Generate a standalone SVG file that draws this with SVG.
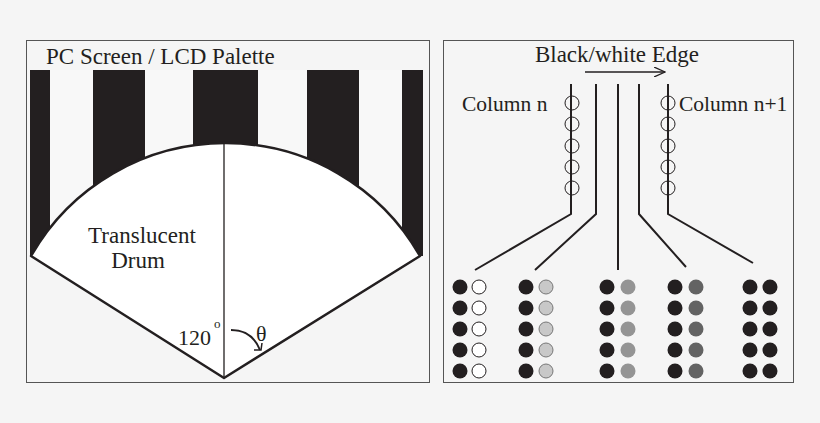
<svg xmlns="http://www.w3.org/2000/svg" width="820" height="423" viewBox="0 0 820 423">
<style>
text{font-family:"Liberation Serif",serif;fill:#231f20}
.ln{stroke:#231f20;stroke-width:2;fill:none}
.oc{fill:none;stroke:#231f20;stroke-width:1}
.blk{fill:#231f20}
</style>
<defs>
<marker id="ah" markerWidth="12" markerHeight="10" refX="11" refY="5" orient="auto" markerUnits="userSpaceOnUse"><path d="M0,0 L11,5 L0,10" fill="none" stroke="#231f20" stroke-width="1.3"/></marker>
</defs>
<rect width="820" height="423" fill="#f5f5f5"/>
<g id="left-panel">
<rect x="26.5" y="40.5" width="403" height="342" fill="#f5f5f5" stroke="#555" stroke-width="1"/>
<text x="46" y="64" font-size="23">PC Screen / LCD Palette</text>
<rect x="30" y="70" width="393" height="186" fill="#f8f8f8"/>
<rect class="blk" x="30" y="70" width="20" height="186"/>
<rect class="blk" x="93" y="70" width="52" height="186"/>
<rect class="blk" x="193" y="70" width="65" height="186"/>
<rect class="blk" x="307" y="70" width="52" height="186"/>
<rect class="blk" x="402" y="70" width="21" height="186"/>
</g>
<g id="drum">
<path d="M224,378 L31,256 A224,224 0 0 1 420,256 Z" fill="#fff" stroke="#231f20" stroke-width="2.5" stroke-linejoin="round"/>
<line x1="224" y1="143" x2="224" y2="378" stroke="#231f20" stroke-width="1.3"/>
<text x="142" y="243" font-size="23" text-anchor="middle">Translucent</text>
<text x="138" y="268" font-size="23" text-anchor="middle">Drum</text>
<text x="178" y="345" font-size="22">120</text>
<text x="214" y="328" font-size="13">o</text>
<text x="256" y="341" font-size="22">θ</text>
<path d="M231,330 Q252,330 260,350" fill="none" stroke="#231f20" stroke-width="2"/>
<path d="M254,350 L261,350 L262,343" fill="none" stroke="#231f20" stroke-width="1.5"/>
</g>
<g id="right-panel">
<rect x="443.5" y="40.5" width="350" height="342" fill="#f5f5f5" stroke="#555" stroke-width="1"/>
<text x="617" y="62" font-size="23" text-anchor="middle">Black/white Edge</text>
<text x="462" y="111" font-size="21.5">Column n</text>
<text x="679" y="111" font-size="21.5">Column n+1</text>
</g>
<g id="connectors">
<line x1="585" y1="72" x2="665" y2="72" stroke="#231f20" stroke-width="1.3" marker-end="url(#ah)"/>
<polyline class="ln" points="571,84 571,214 475,270"/>
<polyline class="ln" points="596,84 596,214 535,270"/>
<polyline class="ln" points="618,84 618,270"/>
<polyline class="ln" points="639,84 639,214 686,267"/>
<polyline class="ln" points="668,84 668,214 753,263"/>
</g>
<g id="column-n">
<circle class="oc" cx="572" cy="103" r="7"/><circle class="oc" cx="572" cy="124" r="7"/><circle class="oc" cx="572" cy="146" r="7"/><circle class="oc" cx="572" cy="167" r="7"/><circle class="oc" cx="572" cy="188" r="7"/>
</g>
<g id="column-n1">
<circle class="oc" cx="668" cy="103" r="7"/><circle class="oc" cx="668" cy="124" r="7"/><circle class="oc" cx="668" cy="146" r="7"/><circle class="oc" cx="668" cy="167" r="7"/><circle class="oc" cx="668" cy="188" r="7"/>
</g>
<g id="dots" transform="translate(0,3)">
<g id="pair-white">
<g class="blk"><circle cx="460" cy="284" r="7.5"/><circle cx="460" cy="305" r="7.5"/><circle cx="460" cy="326" r="7.5"/><circle cx="460" cy="347" r="7.5"/><circle cx="460" cy="368" r="7.5"/></g>
<g fill="#fff" stroke="#231f20" stroke-width="1"><circle cx="479" cy="284" r="7"/><circle cx="479" cy="305" r="7"/><circle cx="479" cy="326" r="7"/><circle cx="479" cy="347" r="7"/><circle cx="479" cy="368" r="7"/></g>
</g>
<g id="pair-light">
<g class="blk"><circle cx="526" cy="284" r="7.5"/><circle cx="526" cy="305" r="7.5"/><circle cx="526" cy="326" r="7.5"/><circle cx="526" cy="347" r="7.5"/><circle cx="526" cy="368" r="7.5"/></g>
<g fill="#c8c8c8" stroke="#777" stroke-width="1"><circle cx="546" cy="284" r="7"/><circle cx="546" cy="305" r="7"/><circle cx="546" cy="326" r="7"/><circle cx="546" cy="347" r="7"/><circle cx="546" cy="368" r="7"/></g>
</g>
<g id="pair-mid">
<g class="blk"><circle cx="607" cy="284" r="7.5"/><circle cx="607" cy="305" r="7.5"/><circle cx="607" cy="326" r="7.5"/><circle cx="607" cy="347" r="7.5"/><circle cx="607" cy="368" r="7.5"/></g>
<g fill="#949494"><circle cx="628" cy="284" r="7.5"/><circle cx="628" cy="305" r="7.5"/><circle cx="628" cy="326" r="7.5"/><circle cx="628" cy="347" r="7.5"/><circle cx="628" cy="368" r="7.5"/></g>
</g>
<g id="pair-dark">
<g class="blk"><circle cx="675" cy="284" r="7.5"/><circle cx="675" cy="305" r="7.5"/><circle cx="675" cy="326" r="7.5"/><circle cx="675" cy="347" r="7.5"/><circle cx="675" cy="368" r="7.5"/></g>
<g fill="#636363"><circle cx="696" cy="284" r="7.5"/><circle cx="696" cy="305" r="7.5"/><circle cx="696" cy="326" r="7.5"/><circle cx="696" cy="347" r="7.5"/><circle cx="696" cy="368" r="7.5"/></g>
</g>
<g id="pair-black" class="blk">
<circle cx="750" cy="284" r="7.5"/><circle cx="750" cy="305" r="7.5"/><circle cx="750" cy="326" r="7.5"/><circle cx="750" cy="347" r="7.5"/><circle cx="750" cy="368" r="7.5"/>
<circle cx="770" cy="284" r="7.5"/><circle cx="770" cy="305" r="7.5"/><circle cx="770" cy="326" r="7.5"/><circle cx="770" cy="347" r="7.5"/><circle cx="770" cy="368" r="7.5"/>
</g>
</g>
</svg>
